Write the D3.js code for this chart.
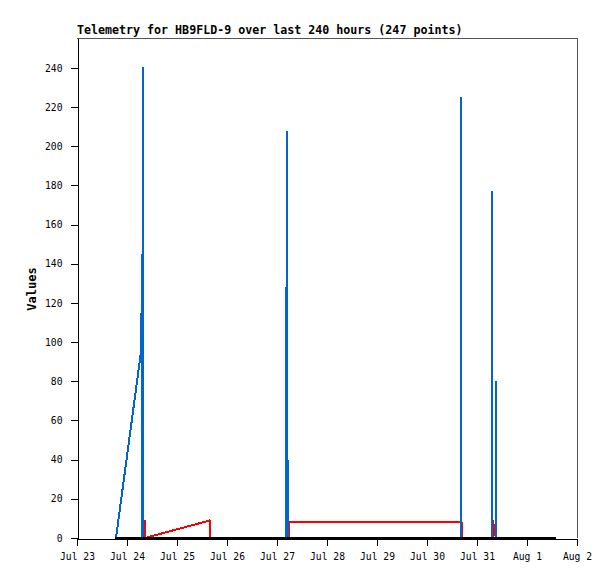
<!DOCTYPE html>
<html>
<head>
	<title>Telemetry HB9FLD-9</title>
	<script src="https://d3js.org/d3.v7.min.js" charset="utf-8"></script>
	<style type="text/css">
		body { margin: 0; background: #fff; }
		svg text { font-family: 'DejaVu Sans Mono', 'Liberation Mono', monospace; fill: #000; }
		.tick text { font-size: 9.7px; }
		.title, .ylabel { font-weight: bold; }
		path, line { shape-rendering: crispEdges; }
	</style>
</head>
<body>
	<script type="text/javascript">
		// channel values
		var blueTimes = ['07-23T18:43', '07-24T06:43', '07-24T07:21', '07-24T07:21', '07-24T07:55', '07-24T07:55', '07-24T07:55',
			'07-27T04:28', '07-27T04:28', '07-27T04:28', '07-27T04:45', '07-27T04:45', '07-27T04:45',
			'07-27T05:23', '07-27T05:23', '07-27T05:23',
			'07-30T16:19', '07-30T16:19', '07-30T16:19',
			'07-31T07:06', '07-31T07:06', '07-31T07:06', '07-31T09:01', '07-31T09:01', '07-31T09:01'];
		var blueValues = [0, 95, 145, 0, 0, 240.5, 0,
			0, 128, 0, 0, 208, 0,
			0, 40, 0,
			0, 225, 0,
			0, 177, 0, 0, 80, 0];

		var redTimes = ['07-24T08:38', '07-24T08:38', '07-25T15:50', '07-25T15:50',
			'07-27T05:40', '07-27T05:46', '07-30T16:57', '07-30T16:57',
			'07-31T07:38', '07-31T07:41', '07-31T08:18', '07-31T09:01'];
		var redValues = [9, 0, 9, 0,
			0, 8, 8, 0,
			0, 9, 4.5, 0];

		var blackTimes = ['07-23T18:20', '07-24T08:40', '07-27T05:30', '07-30T17:00', '07-31T08:40', '08-01T13:55'];
		var blackValues = [0, 0, 0, 0, 0, 0];

		var yTicks = [0, 20, 40, 60, 80, 100, 120, 140, 160, 180, 200, 220, 240];

		var W = 615, H = 579;
		var margin = {left: 77, right: 38, top: 38, bottom: 41};

		var parse = function (s) { return new Date('2023-' + s + ':00Z'); };
		var series = [
			{color: '#ff0000', times: redTimes, values: redValues},
			{color: '#0066cc', times: blueTimes, values: blueValues},
			{color: '#000000', times: blackTimes, values: blackValues}
		];

		var svg = d3.select('body').append('svg')
			.attr('width', W)
			.attr('height', H);

		var x = d3.scaleUtc()
			.domain([new Date(Date.UTC(2023, 6, 23)), new Date(Date.UTC(2023, 7, 2))])
			.range([margin.left, W - margin.right]);
		var y = d3.scaleLinear()
			.domain([0, 255.3])
			.range([H - margin.bottom, margin.top]);

		// frame top and right
		svg.append('path')
			.attr('d', 'M' + x.range()[0] + ',' + (y.range()[1] + 0.5) + 'H' + (x.range()[1] + 0.5) + 'V' + y.range()[0])
			.attr('fill', 'none')
			.attr('stroke', '#555')
			.attr('stroke-width', 1);

		var line = d3.line()
			.x(function (d) { return x(d[0]); })
			.y(function (d) { return y(d[1]); });

		series.forEach(function (s) {
			var pts = s.times.map(function (t, i) { return [parse(t), s.values[i]]; });
			svg.append('path')
				.datum(pts)
				.attr('d', line)
				.attr('fill', 'none')
				.attr('stroke', s.color)
				.attr('stroke-width', 2)
				.attr('stroke-linejoin', 'bevel');
		});

		var xAxis = svg.append('g')
			.attr('transform', 'translate(0,' + (y(0) + 0.5) + ')')
			.call(d3.axisBottom(x)
				.ticks(d3.utcDay.every(1))
				.tickFormat(d3.utcFormat('%b %-d'))
				.tickSize(7)
				.tickSizeOuter(0)
				.tickPadding(8));

		var yAxis = svg.append('g')
			.attr('transform', 'translate(' + (margin.left + 0.5) + ',0)')
			.call(d3.axisLeft(y)
				.tickValues(yTicks)
				.tickSize(7)
				.tickSizeOuter(0)
				.tickPadding(8));

		svg.selectAll('.domain').attr('stroke', '#000');
		svg.selectAll('.tick line').attr('stroke', '#000');
		svg.selectAll('.tick text').attr('font-family', null).attr('font-size', null);

		svg.append('text')
			.attr('class', 'title')
			.attr('x', margin.left)
			.attr('y', 34)
			.attr('font-size', '11.65px')
			.text('Telemetry for HB9FLD-9 over last 240 hours (247 points)');

		svg.append('text')
			.attr('class', 'ylabel')
			.attr('transform', 'translate(36,' + 289 + ') rotate(-90)')
			.attr('text-anchor', 'middle')
			.attr('font-size', '12px')
			.text('Values');
	</script>
</body>
</html>
